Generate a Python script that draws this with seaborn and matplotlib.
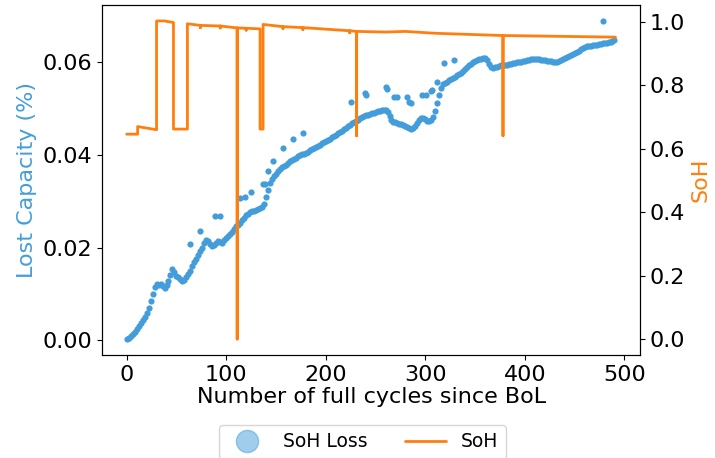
import numpy as np
import pandas as pd
import matplotlib
matplotlib.use("Agg")
import matplotlib.pyplot as plt
from matplotlib.lines import Line2D
import seaborn as sns

# Capacity loss, sampled every 2 full cycles (0 .. 490)
loss_step = 2
lost_capacity = [
    0.0003, 0.0006, 0.0010, 0.0014, 0.0019, 0.0025, 0.0031, 0.0037, 0.0044, 0.0051,
    0.0060, 0.0070, 0.0084, 0.0100, 0.0115, 0.0122, 0.0119, 0.0121, 0.0118, 0.0114,
    0.0119, 0.0128, 0.0142, 0.0155, 0.0148, 0.0140, 0.0136, 0.0132, 0.0128, 0.0130,
    0.0137, 0.0143, 0.0150, 0.0160, 0.0170, 0.0176, 0.0184, 0.0192, 0.0200, 0.0210,
    0.0216, 0.0214, 0.0208, 0.0204, 0.0206, 0.0211, 0.0215, 0.0213, 0.0211, 0.0217,
    0.0221, 0.0225, 0.0229, 0.0233, 0.0240, 0.0247, 0.0250, 0.0253, 0.0259, 0.0265,
    0.0270, 0.0273, 0.0276, 0.0279, 0.0280, 0.0282, 0.0283, 0.0285, 0.0287, 0.0295,
    0.0310, 0.0325, 0.0340, 0.0349, 0.0355, 0.0360, 0.0365, 0.0369, 0.0373, 0.0376,
    0.0379, 0.0383, 0.0386, 0.0389, 0.0392, 0.0394, 0.0397, 0.0399, 0.0401, 0.0403,
    0.0405, 0.0407, 0.0410, 0.0412, 0.0414, 0.0417, 0.0420, 0.0422, 0.0425, 0.0428,
    0.0430, 0.0433, 0.0435, 0.0438, 0.0441, 0.0444, 0.0447, 0.0449, 0.0452, 0.0456,
    0.0459, 0.0462, 0.0465, 0.0468, 0.0471, 0.0474, 0.0476, 0.0479, 0.0482, 0.0484,
    0.0486, 0.0487, 0.0489, 0.0490, 0.0491, 0.0492, 0.0494, 0.0495, 0.0497, 0.0498,
    0.0497, 0.0492, 0.0484, 0.0476, 0.0472, 0.0470, 0.0468, 0.0467, 0.0466, 0.0465,
    0.0463, 0.0461, 0.0459, 0.0457, 0.0458, 0.0462, 0.0468, 0.0475, 0.0480, 0.0479,
    0.0477, 0.0474, 0.0473, 0.0475, 0.0482, 0.0495, 0.0512, 0.0530, 0.0545, 0.0553,
    0.0556, 0.0558, 0.0561, 0.0564, 0.0566, 0.0569, 0.0572, 0.0574, 0.0577, 0.0581,
    0.0585, 0.0589, 0.0593, 0.0597, 0.0600, 0.0602, 0.0604, 0.0606, 0.0608, 0.0609,
    0.0609, 0.0604, 0.0597, 0.0589, 0.0587, 0.0589, 0.0590, 0.0591, 0.0593, 0.0594,
    0.0595, 0.0595, 0.0596, 0.0597, 0.0598, 0.0599, 0.0600, 0.0600, 0.0601, 0.0602,
    0.0603, 0.0604, 0.0605, 0.0606, 0.0607, 0.0607, 0.0607, 0.0606, 0.0605, 0.0604,
    0.0604, 0.0603, 0.0602, 0.0602, 0.0601, 0.0601, 0.0601, 0.0602, 0.0604, 0.0607,
    0.0610, 0.0612, 0.0614, 0.0616, 0.0618, 0.0620, 0.0622, 0.0624, 0.0628, 0.0631,
    0.0633, 0.0634, 0.0635, 0.0636, 0.0637, 0.0637, 0.0638, 0.0639, 0.0640, 0.0641,
    0.0641, 0.0642, 0.0643, 0.0644, 0.0645, 0.0647,
]

# Isolated capacity-loss measurements away from the main trend
outlier_cycles = [64, 74, 89, 94, 114, 119, 125, 137, 139, 142, 147, 157, 167, 177,
                  225, 239, 240, 260, 261, 269, 272, 282, 284, 286, 297, 301, 306,
                  307, 312, 319, 329, 478]
outlier_loss = [0.0207, 0.0236, 0.0268, 0.0268, 0.0308, 0.0310, 0.0321, 0.0337,
                0.0337, 0.0366, 0.0387, 0.0416, 0.0435, 0.0447, 0.0515, 0.0533,
                0.0530, 0.0547, 0.0542, 0.0526, 0.0526, 0.0526, 0.0515, 0.0511,
                0.0529, 0.0529, 0.0537, 0.0539, 0.0558, 0.0598, 0.0605, 0.0689]

# State of health trace (repeated cycles give the vertical jumps)
soh_cycles = [0, 11, 11, 30, 30, 38, 47, 47, 61, 61, 74, 74, 74, 94, 94, 94,
              111, 111, 111, 120, 120, 120, 134, 134, 137, 137, 157, 157, 157,
              177, 177, 177, 224, 224, 224, 231, 231, 231, 260, 280, 300, 311,
              378, 378, 378, 491]
soh_values = [0.646, 0.646, 0.670, 0.660, 1.003, 1.003, 0.998, 0.662, 0.662, 0.994,
              0.989, 0.982, 0.989, 0.987, 0.981, 0.987, 0.981, 0.000, 0.981, 0.980,
              0.974, 0.980, 0.978, 0.662, 0.662, 0.992, 0.985, 0.979, 0.985, 0.982,
              0.976, 0.982, 0.972, 0.966, 0.972, 0.970, 0.641, 0.970, 0.968, 0.970,
              0.966, 0.964, 0.957, 0.641, 0.957, 0.952]

blue = "#449ddb"
orange = "#ff7f0e"
fs = 16

loss_df = pd.DataFrame({
    "cycle": np.concatenate([np.arange(len(lost_capacity)) * loss_step, outlier_cycles]),
    "loss": np.concatenate([lost_capacity, outlier_loss]),
})
soh_df = pd.DataFrame({"cycle": soh_cycles, "soh": soh_values})

sns.set_style("ticks")
plt.rcParams["font.family"] = ["DejaVu Sans"]
plt.rcParams.update({
    "text.color": "black", "axes.labelcolor": "black",
    "xtick.color": "black", "ytick.color": "black",
    "axes.edgecolor": "black", "font.size": fs,
})

fig, ax = plt.subplots(figsize=(7.15, 4.58), dpi=100)
fig.subplots_adjust(left=0.143, right=0.895, top=0.989, bottom=0.225)

sns.scatterplot(data=loss_df, x="cycle", y="loss", ax=ax, color=blue,
                s=20, linewidth=0, legend=False)
ax.set_xlabel("Number of full cycles since BoL", fontsize=fs, labelpad=2)
ax.set_ylabel("Lost Capacity (%)", color=blue, fontsize=fs)
ax.set_xticks([0, 100, 200, 300, 400, 500])
ax.set_yticks([0.00, 0.02, 0.04, 0.06])
ax.tick_params(labelsize=fs, colors="black")

ax2 = ax.twinx()
sns.lineplot(data=soh_df, x="cycle", y="soh", ax=ax2, color=orange, linewidth=2,
             sort=False, estimator=None, legend=False)
ax2.set_ylabel("SoH", color=orange, fontsize=fs)
ax2.set_yticks([0.0, 0.2, 0.4, 0.6, 0.8, 1.0])
ax2.tick_params(labelsize=fs, colors="black")

for a in (ax, ax2):
    for sp in a.spines.values():
        sp.set_visible(True)
        sp.set_color("black")

handles = [
    Line2D([], [], marker="o", linestyle="", markersize=16, markerfacecolor=blue,
           markeredgecolor=blue, alpha=0.5),
    Line2D([], [], color=orange, linewidth=2),
]
fig.legend(handles, ["SoH Loss", "SoH"], loc="upper center",
           bbox_to_anchor=(0.507, 0.093), ncol=2, fontsize=13.5,
           frameon=True, handlelength=2.2, columnspacing=2.0)

fig.savefig("out.png", dpi=100)
